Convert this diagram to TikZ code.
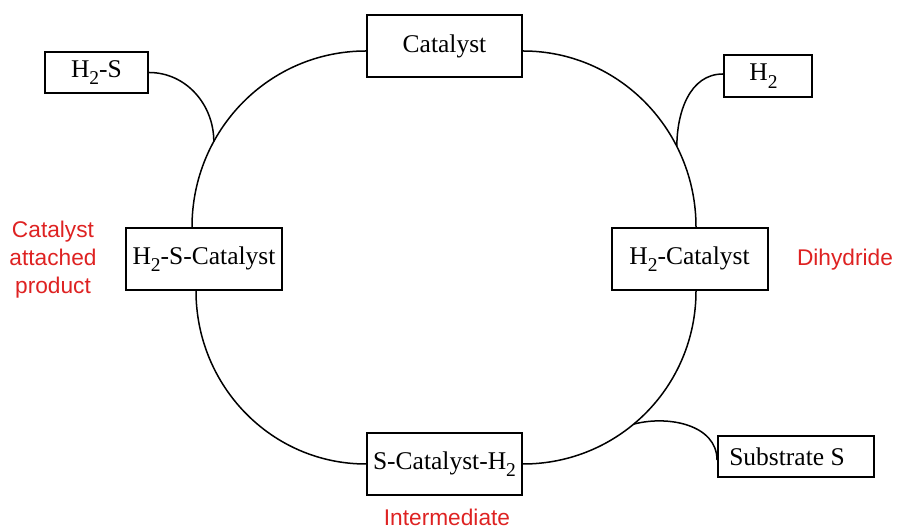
\documentclass[tikz,border=0pt]{standalone}
\usepackage{fontspec}
\setmainfont{Liberation Serif}
\newfontfamily\labelfont{Liberation Sans}
\definecolor{lblred}{RGB}{222,34,34}
\newcommand\subtwo{\raisebox{-0.3em}{\fontsize{19.5}{19.5}\selectfont 2}}
\begin{document}
\begin{tikzpicture}[x=1pt,y=1pt,
  box/.style={draw, line width=2pt, inner sep=0pt, font=\fontsize{25.5}{30}\selectfont},
  link/.style={line width=1.5pt},
  lbl/.style={text=lblred, font=\labelfont\fontsize{22.7}{28}\selectfont, align=center}]
\useasboundingbox (0,0) rectangle (901,529);
% boxes
\node[box, minimum width=155pt, minimum height=62pt] (cat) at (444.5,483) {Catalyst};
\node[box, minimum width=103pt, minimum height=41pt] (hs) at (96.5,456.5) {H\subtwo-S};
\node[box, minimum width=88pt, minimum height=42pt] (h2) at (768,453) {H\subtwo\hspace*{9pt}};
\node[box, minimum width=156pt, minimum height=62pt] (hsc) at (204,270) {H\subtwo-S-Catalyst};
\node[box, minimum width=156pt, minimum height=62pt] (hc) at (689.5,270) {H\subtwo-Catalyst};
\node[box, minimum width=155pt, minimum height=62pt] (sch) at (444.5,65) {S-Catalyst-H\subtwo};
\node[box, minimum width=156pt, minimum height=41pt] (ss) at (796,72.5) {Substrate S\hspace*{18pt}};
% labels
\node[lbl] (l1) at (53,269) {Catalyst\\attached\\product};
\node[lbl] (l2) at (845,269) {Dihydride};
\node[lbl, anchor=base] (l3) at (447,3) {Intermediate};
% cycle
\draw[link] ([yshift=-5pt]cat.west) to[out=180,in=90] coordinate[pos=0.68] (j1) ([xshift=-12pt]hsc.north);
\draw[link] ([yshift=-5pt]cat.east) to[out=0,in=90] coordinate[pos=0.7] (j2) ([xshift=6.5pt]hc.north);
\draw[link] ([xshift=-8pt]hsc.south) to[out=-90,in=180] (sch.west);
\draw[link] (sch.east) to[out=0,in=-90] coordinate[pos=0.44] (j3) ([xshift=6.5pt]hc.south);
% branches
\draw[link] (hs.east) to[out=0,in=90] (j1);
\draw[link] (j2) to[out=90,in=180] ([yshift=2pt]h2.west);
\draw[link] (j3) to[out=15,in=90] ([yshift=-3.5pt]ss.west);
\end{tikzpicture}
\end{document}
